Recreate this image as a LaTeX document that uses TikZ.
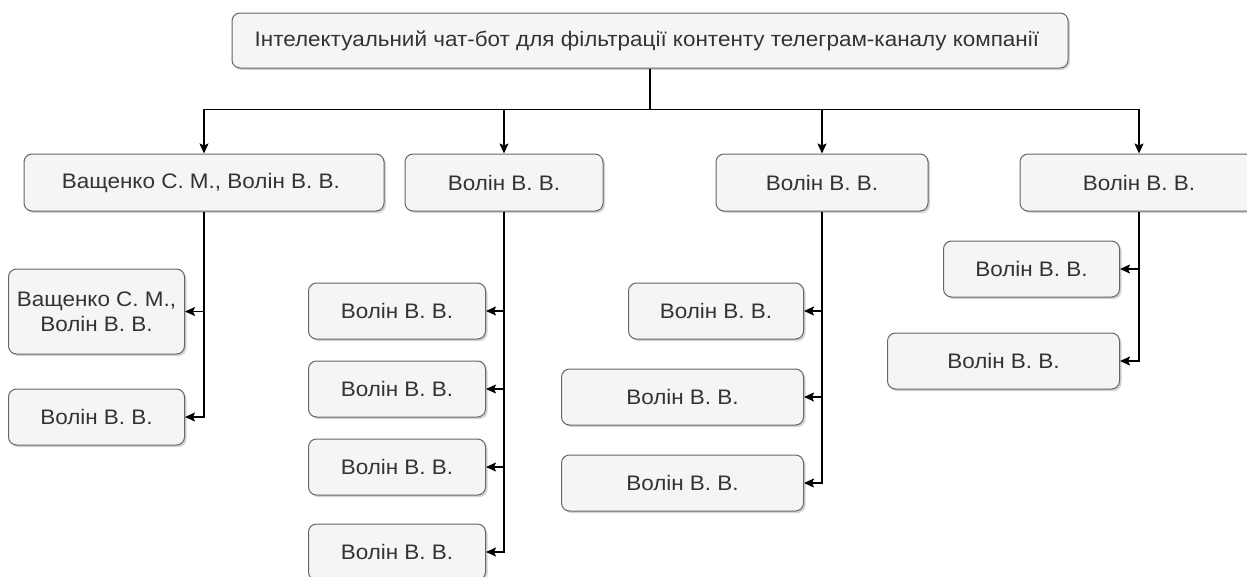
\documentclass[tikz,border=0pt]{standalone}
\usepackage{fontspec}
\setmainfont{Liberation Sans}[FakeStretch=1.07]
\usepackage{xcolor}
\usetikzlibrary{arrows.meta, positioning, shadows}

\definecolor{boxfill}{HTML}{F5F5F5}
\definecolor{boxline}{HTML}{666666}
\definecolor{boxtext}{HTML}{333333}

\begin{document}
\begin{tikzpicture}[
    x=1pt, y=1pt,
    box/.style={
        rectangle,
        rounded corners=8pt,
        draw=boxline,
        line width=1pt,
        fill=boxfill,
        text=boxtext,
        align=center,
        inner sep=2pt,
        minimum height=56pt,
        font=\fontsize{21}{25}\selectfont,
        drop shadow={shadow xshift=2pt, shadow yshift=-2pt, opacity=0.35, fill=gray}
    },
    link/.style={
        draw=black,
        line width=1.5pt,
        -{Stealth[length=10pt, width=9pt, inset=2pt]}
    }
]
    \useasboundingbox (0,0) rectangle (1247,-576);

    % 1. Project (Top)
    \node (topic) [box, minimum width=836pt, minimum height=55pt] at (650,-40.5) {
        Інтелектуальний чат-бот для фільтрації контенту телеграм-каналу компанії
    };

    % 2. Executors (Middle row)
    \node (lead1) [box, minimum width=360pt, minimum height=57pt, below=85pt of topic, xshift=-446pt] {
        Ващенко С. М., Волін В. В.
    };
    \node (lead2) [box, minimum width=198pt, minimum height=57pt, right=20pt of lead1] {Волін В. В.};
    \node (lead3) [box, minimum width=212pt, minimum height=57pt, right=112pt of lead2] {Волін В. В.};
    \node (lead4) [box, minimum width=238pt, minimum height=57pt, right=91pt of lead3] {Волін В. В.};

    % 3. Tasks under lead1
    \node (task11) [box, minimum width=176pt, minimum height=85pt, below left=57pt and 19pt of lead1.south] {
        Ващенко С. М.,\\ Волін В. В.
    };
    \node (task12) [box, minimum width=176pt, below left=34pt and 0pt of task11.south east] {Волін В. В.};

    % 4. Tasks under lead2
    \node (task21) [box, minimum width=177pt, below left=71pt and 18pt of lead2.south] {Волін В. В.};
    \node (task22) [box, minimum width=177pt, below left=21pt and 0pt of task21.south east] {Волін В. В.};
    \node (task23) [box, minimum width=177pt, below left=21pt and 0pt of task22.south east] {Волін В. В.};
    \node (task24) [box, minimum width=177pt, below left=28pt and 0pt of task23.south east] {Волін В. В.};

    % 5. Tasks under lead3
    \node (task31) [box, minimum width=175pt, below left=71pt and 18pt of lead3.south] {Волін В. В.};
    \node (task32) [box, minimum width=242pt, below left=29pt and 0pt of task31.south east] {Волін В. В.};
    \node (task33) [box, minimum width=242pt, below left=29pt and 0pt of task32.south east] {Волін В. В.};

    % 6. Tasks under lead4
    \node (task41) [box, minimum width=176pt, below left=29pt and 19pt of lead4.south] {Волін В. В.};
    \node (task42) [box, minimum width=232pt, below left=35pt and 0pt of task41.south east] {Волін В. В.};

    % Relationships
    \foreach \lead in {lead1, lead2, lead3, lead4}
        \draw[link] (topic.south) -- ++(0,-41) -| (\lead.north);

    \foreach \task in {task11, task12}
        \draw[link] (lead1.south) |- (\task.east);
    \foreach \task in {task21, task22, task23, task24}
        \draw[link] (lead2.south) |- (\task.east);
    \foreach \task in {task31, task32, task33}
        \draw[link] (lead3.south) |- (\task.east);
    \foreach \task in {task41, task42}
        \draw[link] (lead4.south) |- (\task.east);

\end{tikzpicture}
\end{document}
